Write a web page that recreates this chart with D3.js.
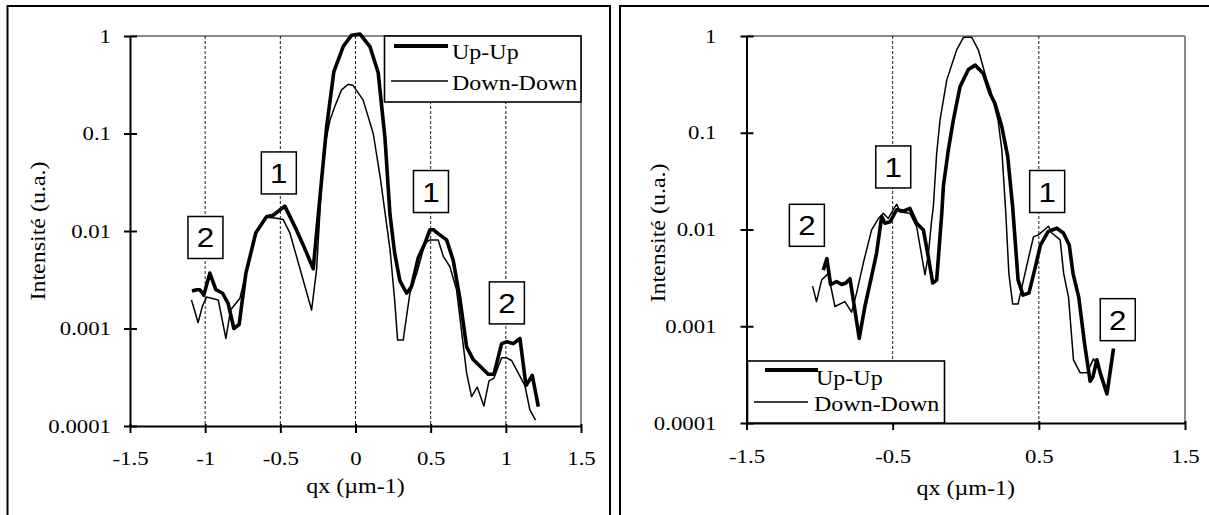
<!DOCTYPE html>
<html><head><meta charset="utf-8">
<script src="https://cdn.jsdelivr.net/npm/d3@7/dist/d3.min.js"></script>
<style>body{margin:0;background:#fff}svg{display:block}</style></head>
<body>
<svg id="c" width="1209" height="515"></svg>
<script>
// ---- tick labels / categories ----
const yTickValues = [0.0001, 0.001, 0.01, 0.1, 1];
const yTickLabels = ["0.0001", "0.001", "0.01", "0.1", "1"];
const leftXTicks = [-1.5, -1, -0.5, 0, 0.5, 1, 1.5];
const leftXLabels = ["-1.5", "-1", "-0.5", "0", "0.5", "1", "1.5"];
const rightXTicks = [-1.5, -0.5, 0.5, 1.5];
const rightXLabels = ["-1.5", "-0.5", "0.5", "1.5"];
const leftGrid = [-1, -0.5, 0, 0.5, 1];
const rightGrid = [-0.5, 0.5];
const seriesNames = ["Up-Up", "Down-Down"];
const xTitle = "qx (µm-1)";
const yTitle = "Intensité (u.a.)";

// ---- left panel series ----
const leftUpQx = [-1.088,-1.055,-1.035,-1.009,-0.969,-0.929,-0.884,-0.847,-0.809,-0.774,-0.729,-0.663,-0.592,-0.548,-0.47,-0.392,-0.348,-0.281,-0.259,-0.226,-0.192,-0.144,-0.082,-0.026,0.029,0.096,0.151,0.196,0.229,0.26,0.295,0.34,0.373,0.417,0.462,0.495,0.52,0.545,0.606,0.65,0.695,0.739,0.783,0.883,0.921,0.972,1.005,1.05,1.094,1.134,1.176,1.216];
const leftUpI  = [0.00243,0.0025,0.0025,0.0022,0.0037,0.0025,0.0023,0.0018,0.0010,0.0011,0.0037,0.0096,0.014,0.0145,0.018,0.0102,0.0072,0.0041,0.0095,0.033,0.117,0.43,0.78,1.02,1.05,0.78,0.42,0.09,0.015,0.006,0.0031,0.0023,0.0027,0.0053,0.0075,0.0103,0.0103,0.0095,0.0081,0.005,0.002,0.00065,0.00048,0.00034,0.00034,0.0007,0.00073,0.0007,0.00079,0.00026,0.00033,0.000158];
const leftDownQx = [-1.091,-1.047,-1.018,-0.991,-0.913,-0.862,-0.831,-0.769,-0.729,-0.658,-0.592,-0.525,-0.481,-0.436,-0.292,-0.259,-0.226,-0.2,-0.17,-0.137,-0.093,-0.048,-0.015,0.051,0.118,0.165,0.23,0.26,0.28,0.317,0.362,0.41,0.462,0.495,0.55,0.584,0.628,0.672,0.739,0.772,0.81,0.854,0.888,0.921,0.972,1.005,1.038,1.127,1.16,1.198];
const leftDownI  = [0.00196,0.00115,0.0017,0.0021,0.00196,0.00079,0.00155,0.00204,0.0037,0.0098,0.0138,0.0135,0.0131,0.0095,0.00155,0.004,0.03,0.08,0.137,0.19,0.28,0.32,0.31,0.22,0.1,0.035,0.0064,0.002,0.00076,0.00076,0.0023,0.0038,0.0075,0.0081,0.0081,0.0055,0.0043,0.0025,0.00035,0.0002,0.00025,0.00016,0.00029,0.00031,0.0005,0.0005,0.00047,0.00026,0.000146,0.000115];

// ---- right panel series ----
const rightUpQx = [-0.975,-0.95,-0.925,-0.884,-0.849,-0.82,-0.792,-0.77,-0.729,-0.69,-0.644,-0.61,-0.575,-0.553,-0.518,-0.473,-0.427,-0.382,-0.336,-0.29,-0.256,-0.226,-0.199,-0.164,-0.153,-0.12,-0.085,-0.039,0.018,0.064,0.12,0.166,0.2,0.247,0.287,0.321,0.358,0.392,0.432,0.471,0.511,0.563,0.623,0.668,0.708,0.734,0.773,0.813,0.851,0.87,0.897,0.92,0.966,1.011];
const rightUpI  = [0.0038,0.005,0.0027,0.0029,0.0027,0.0028,0.0031,0.0019,0.00075,0.0016,0.0033,0.0057,0.0136,0.0116,0.012,0.016,0.0155,0.0165,0.0116,0.0099,0.0052,0.0028,0.003,0.0147,0.028,0.065,0.135,0.3,0.45,0.5,0.41,0.255,0.2,0.115,0.057,0.017,0.003,0.0021,0.0022,0.0038,0.0069,0.0095,0.0103,0.0092,0.0069,0.0035,0.002,0.00066,0.00027,0.0003,0.00045,0.00033,0.0002,0.00059];
const rightDownQx = [-1.048,-1.021,-0.986,-0.941,-0.895,-0.827,-0.781,-0.747,-0.701,-0.644,-0.599,-0.564,-0.53,-0.484,-0.472,-0.45,-0.382,-0.336,-0.279,-0.256,-0.233,-0.222,-0.199,-0.176,-0.13,-0.062,-0.016,0.041,0.086,0.144,0.168,0.221,0.247,0.274,0.295,0.321,0.358,0.405,0.463,0.497,0.566,0.589,0.646,0.67,0.703,0.737,0.783,0.829,0.874,0.908];
const rightDownI  = [0.0026,0.0018,0.003,0.0035,0.0016,0.0018,0.0014,0.0022,0.0045,0.0099,0.0129,0.0147,0.013,0.0172,0.0182,0.0152,0.0147,0.0107,0.0034,0.0055,0.0126,0.017,0.061,0.135,0.35,0.72,0.97,0.97,0.72,0.35,0.28,0.135,0.066,0.0147,0.0035,0.0017,0.0017,0.0035,0.0084,0.0088,0.0108,0.0092,0.0078,0.0035,0.002,0.00045,0.00033,0.00033,0.00046,0.00039];

// ---- peak annotations ----
const leftNoteLabels = ["2", "1", "1", "2"];
const leftNoteQx = [-0.998, -0.51, 0.502, 1.007];
const leftNoteI = [0.00858, 0.0394, 0.0254, 0.00183];
const rightNoteLabels = ["2", "1", "1", "2"];
const rightNoteQx = [-1.087, -0.496, 0.557, 1.04];
const rightNoteI = [0.01105, 0.0443, 0.0247, 0.00117];

const svg = d3.select("#c");
const SERIF = "'Liberation Serif','Times New Roman',serif";
const SANS = "'Liberation Sans',Arial,sans-serif";
const SX = 1.2;

function stretchedText(g, txt, x, y, size, anchor, family, sx, rotate) {
  const t = g.append("text")
    .attr("transform", `translate(${x},${y})` + (rotate ? ` rotate(${rotate})` : "") + ` scale(${sx},1)`)
    .attr("text-anchor", anchor).attr("font-family", family).attr("font-size", size)
    .attr("fill", "#000").text(txt);
  return t;
}

function panel(cfg) {
  const g = svg.append("g");
  // outer frame
  g.append("rect").attr("x", cfg.fx).attr("y", 6).attr("width", cfg.fw).attr("height", 700)
    .attr("fill", "none").attr("stroke", "#000").attr("stroke-width", 2);

  const x = d3.scaleLinear().domain([-1.5, 1.5]).range([cfg.x0, cfg.x1]);
  const y = d3.scaleLog().domain([1e-4, 1]).range([cfg.y1, cfg.y0]);

  // gray top & right border of plot area
  g.append("line").attr("x1", x(-1.5)).attr("x2", x(1.5)).attr("y1", y(1)).attr("y2", y(1))
    .attr("stroke", "#8a8a8a").attr("stroke-width", 2);
  g.append("line").attr("x1", x(1.5)).attr("x2", x(1.5)).attr("y1", y(1)).attr("y2", y(1e-4))
    .attr("stroke", "#8a8a8a").attr("stroke-width", 2);

  // dashed grid
  g.selectAll(null).data(cfg.grid).enter().append("line")
    .attr("x1", d => x(d)).attr("x2", d => x(d)).attr("y1", y(1)).attr("y2", y(1e-4))
    .attr("stroke", "#000").attr("stroke-width", 0.9).attr("stroke-dasharray", "3,2");

  const line = d3.line().x(d => x(d[0])).y(d => y(d[1]));
  g.append("path").datum(d3.zip(cfg.downQ, cfg.downI)).attr("d", line)
    .attr("fill", "none").attr("stroke", "#000").attr("stroke-width", 1.5).attr("stroke-linejoin", "round");
  g.append("path").datum(d3.zip(cfg.upQ, cfg.upI)).attr("d", line)
    .attr("fill", "none").attr("stroke", "#000").attr("stroke-width", 3.6).attr("stroke-linejoin", "round");

  // axes
  const ya = d3.axisLeft(y).tickValues(yTickValues).tickFormat((d, i) => yTickLabels[i])
    .tickSizeInner(6).tickSizeOuter(0);
  const yg = g.append("g").attr("transform", `translate(${cfg.x0},0)`).call(ya);
  yg.select(".domain").attr("stroke-width", 2);
  yg.selectAll(".tick line").attr("x1", 7).attr("stroke-width", 2);
  yg.selectAll(".tick text").attr("font-family", SERIF).attr("font-size", 19).attr("fill", "#000")
    .attr("x", -cfg.yGap / SX).attr("transform", `scale(${SX},1)`);

  const xa = d3.axisBottom(x).tickValues(cfg.xTicks).tickFormat((d, i) => cfg.xLabels[i])
    .tickSizeInner(7).tickSizeOuter(0);
  const xg = g.append("g").attr("transform", `translate(0,${cfg.y1})`).call(xa);
  xg.select(".domain").attr("stroke-width", 2);
  xg.selectAll(".tick line").attr("y1", -2).attr("stroke-width", 2);
  xg.selectAll(".tick text").attr("font-family", SERIF).attr("font-size", 19).attr("fill", "#000")
    .attr("y", cfg.xLabBase - cfg.y1).attr("dy", null).attr("transform", `scale(${SX},1)`);

  // titles
  stretchedText(g, xTitle, (cfg.x0 + cfg.x1) / 2, cfg.xTitleBase, 20, "middle", SERIF, SX);
  stretchedText(g, yTitle, cfg.yTitleX, cfg.yTitleY, 20, "middle", SERIF, SX, -90);

  // annotations
  cfg.notes.forEach((n, i) => {
    const cx = x(cfg.noteQ[i]), cy = y(cfg.noteI[i]);
    g.append("rect").attr("x", cx - 17.5).attr("y", cy - 21).attr("width", 35).attr("height", 42)
      .attr("fill", "#fff").attr("stroke", "#000").attr("stroke-width", 1.5);
    stretchedText(g, n, cx, cy + 10, 28, "middle", SANS, 1.12);
  });

  // legend
  const L = cfg.legend;
  g.append("rect").attr("x", L.x).attr("y", L.y).attr("width", L.w).attr("height", L.h)
    .attr("fill", "#fff").attr("stroke", "#000").attr("stroke-width", 1.6);
  g.append("line").attr("x1", L.l1[0]).attr("x2", L.l1[1]).attr("y1", L.l1[2]).attr("y2", L.l1[2])
    .attr("stroke", "#000").attr("stroke-width", 3.8);
  g.append("line").attr("x1", L.l2[0]).attr("x2", L.l2[1]).attr("y1", L.l2[2]).attr("y2", L.l2[2])
    .attr("stroke", "#000").attr("stroke-width", 1.5);
  stretchedText(g, seriesNames[0], L.t1[0], L.t1[1], 20, "start", SERIF, SX);
  stretchedText(g, seriesNames[1], L.t2[0], L.t2[1], 20, "start", SERIF, SX);
}

panel({
  fx: 7.5, fw: 602.5, x0: 130, x1: 581, y0: 36, y1: 426,
  grid: leftGrid, xTicks: leftXTicks, xLabels: leftXLabels,
  upQ: leftUpQx, upI: leftUpI, downQ: leftDownQx, downI: leftDownI,
  yGap: 19, xLabBase: 465, xTitleBase: 493, yTitleX: 45, yTitleY: 231,
  notes: leftNoteLabels, noteQ: leftNoteQx, noteI: leftNoteI,
  legend: { x: 384.5, y: 36, w: 196.5, h: 66, l1: [394, 448, 46], l2: [391, 448, 81], t1: [452, 59], t2: [452, 90] }
});
panel({
  fx: 620, fw: 700, x0: 746.5, x1: 1185, y0: 36, y1: 423,
  grid: rightGrid, xTicks: rightXTicks, xLabels: rightXLabels,
  upQ: rightUpQx, upI: rightUpI, downQ: rightDownQx, downI: rightDownI,
  yGap: 30, xLabBase: 463, xTitleBase: 495, yTitleX: 665, yTitleY: 233,
  notes: rightNoteLabels, noteQ: rightNoteQx, noteI: rightNoteI,
  legend: { x: 747.5, y: 361, w: 197, h: 62, l1: [765, 818, 370], l2: [754, 808, 402], t1: [816, 385], t2: [814, 411] }
});
</script>
</body></html>
